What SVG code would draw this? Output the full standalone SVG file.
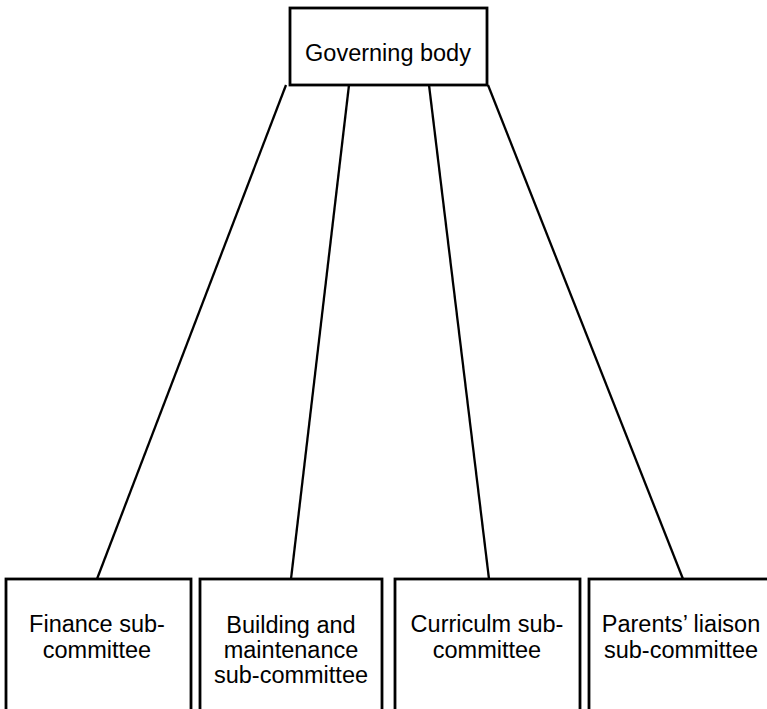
<svg xmlns="http://www.w3.org/2000/svg" width="767" height="709" viewBox="0 0 767 709">
<style>
.box{fill:#fff;stroke:#000;stroke-width:2.8}
.ln{stroke:#000;stroke-width:2.3;fill:none}
text{font-family:"Liberation Sans",Arial,sans-serif;font-size:23.5px;fill:#000;text-anchor:middle}
</style>
<rect width="767" height="709" fill="#fff"/>
<g id="connectors">
<line class="ln" x1="286" y1="85" x2="97" y2="579"/>
<line class="ln" x1="349" y1="85" x2="291" y2="579"/>
<line class="ln" x1="429" y1="85" x2="489" y2="579"/>
<line class="ln" x1="488" y1="85" x2="683" y2="579"/>
</g>
<g id="governing">
<rect class="box" x="290" y="8" width="197" height="77"/>
<text x="388" y="61">Governing body</text>
</g>
<g id="finance">
<rect class="box" x="6" y="579" width="185" height="145"/>
<text x="97" y="632">Finance sub-</text>
<text x="97" y="658">committee</text>
</g>
<g id="building">
<rect class="box" x="200" y="579" width="182" height="145"/>
<text x="291" y="633">Building and</text>
<text x="291" y="658">maintenance</text>
<text x="291" y="683">sub-committee</text>
</g>
<g id="curriculum">
<rect class="box" x="395" y="579" width="185" height="145"/>
<text x="487" y="632">Curriculm sub-</text>
<text x="487" y="658">committee</text>
</g>
<g id="parents">
<rect class="box" x="589" y="579" width="200" height="145"/>
<text x="681" y="632">Parents’ liaison</text>
<text x="681" y="658">sub-committee</text>
</g>
</svg>
